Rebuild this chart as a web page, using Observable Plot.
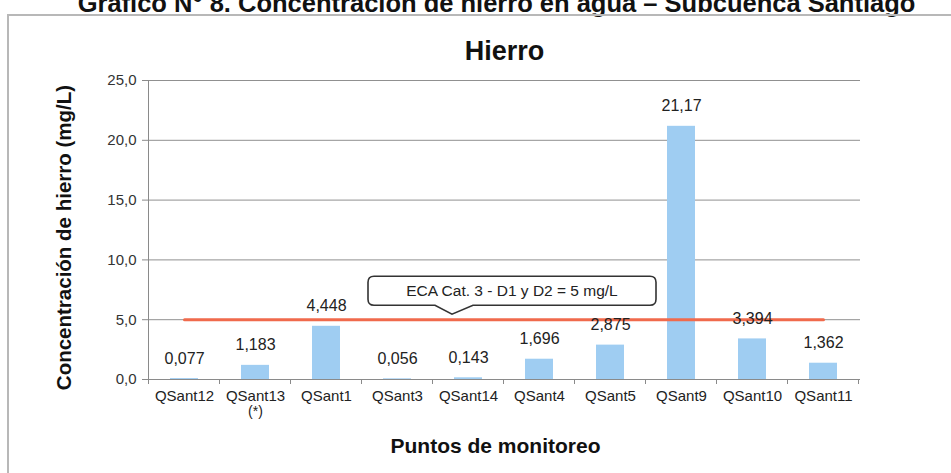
<!DOCTYPE html>
<html><head><meta charset="utf-8">
<script src="https://cdn.jsdelivr.net/npm/d3@7"></script>
<script src="https://cdn.jsdelivr.net/npm/@observablehq/plot@0.6"></script>
<style>
body{margin:0;background:#fff;}
#wrap{position:relative;width:951px;height:473px;overflow:hidden;font-family:"Liberation Sans",Arial,sans-serif;}
#chart{position:absolute;left:0;top:0;}
#frame{position:absolute;left:7px;top:14px;right:-5px;bottom:-5px;border-top:2px solid #b8b8b8;border-left:2px solid #b8b8b8;pointer-events:none;}
</style></head><body>
<div id="wrap"><div id="chart"></div><div id="frame"></div></div>
<script>
// ---- data ----
const categories = ["QSant12","QSant13","QSant1","QSant3","QSant14","QSant4","QSant5","QSant9","QSant10","QSant11"];
const values = [0.077, 1.183, 4.448, 0.056, 0.143, 1.696, 2.875, 21.17, 3.394, 1.362];
const valueLabels = ["0,077","1,183","4,448","0,056","0,143","1,696","2,875","21,17","3,394","1,362"];
const tickNotes = [{cat: "QSant13", note: "(*)"}];
const yTicks = [0, 5, 10, 15, 20, 25];
const ecaLimit = 5;
const ecaLabel = "ECA Cat. 3 - D1 y D2 = 5 mg/L";
const chartTitle = "Hierro";
const pageTitle = "Gráfico N° 8. Concentración de hierro en agua – Subcuenca Santiago";
const yLabel = "Concentración de hierro (mg/L)";
const xLabel = "Puntos de monitoreo";

const data = categories.map((c, i) => ({cat: c, value: values[i], label: valueLabels[i]}));
const ecaLine = categories.map(c => ({cat: c, v: ecaLimit}));

const font = '"Liberation Sans", Arial, sans-serif';
const plot = Plot.plot({
  width: 951, height: 473,
  marginTop: 80, marginRight: 91, marginBottom: 94, marginLeft: 148,
  style: {fontFamily: font, fontSize: "15px", color: "#222", background: "transparent", overflow: "visible"},
  x: {domain: categories, paddingInner: 0.6, paddingOuter: 0.3},
  y: {domain: [0, 25]},
  marks: [
    Plot.ruleY(yTicks.filter(d => d > 0), {stroke: "#909090", strokeWidth: 1}),
    Plot.barY(data, {x: "cat", y: "value", fill: "#9fcdf2"}),
    Plot.ruleY([0], {stroke: "#8a8a8a", strokeWidth: 1.2}),
    Plot.frame({anchor: "left", stroke: "#8a8a8a"}),
    Plot.axisY(yTicks, {tickSize: 6, tickPadding: 6, stroke: "#8a8a8a", fill: "#333",
      tickFormat: d => d.toFixed(1).replace(".", ","), fontSize: 15, label: null}),
    Plot.axisX({tickSize: 0, tickPadding: 11, fill: "#222", fontSize: 15, label: null}),
    Plot.text(tickNotes, {x: "cat", text: "note", frameAnchor: "bottom", dy: 36, fontSize: 14, fill: "#222"}),
    Plot.line(ecaLine, {x: "cat", y: "v", stroke: "#f06a4c", strokeWidth: 3}),
    Plot.text(data, {x: "cat", y: "value", text: "label", dy: -20, fontSize: 16, fill: "#222"}),
    Plot.text([chartTitle], {frameAnchor: "top", dy: -40, fontSize: 27, fontWeight: "bold", fill: "#111"}),
    Plot.text([xLabel], {frameAnchor: "bottom", dy: 73, dx: -9, fontSize: 21, fontWeight: "bold", fill: "#111"})
  ]
});
document.getElementById("chart").appendChild(plot);

// ---- annotations positioned through the plot's scales ----
const xs = plot.scale("x"), ys = plot.scale("y");
const svg = d3.select(plot);
const gap = (xs.step - xs.bandwidth) / 2;
const bounds = categories.map(c => xs.apply(c) - gap);
bounds.push(xs.apply(categories[categories.length - 1]) + xs.bandwidth + gap);
const y0 = ys.apply(0);
svg.append("g").selectAll("line").data(bounds).join("line")
  .attr("x1", d => d).attr("x2", d => d).attr("y1", y0).attr("y2", y0 + 5)
  .attr("stroke", "#8a8a8a").attr("stroke-width", 1);

// y axis label (rotated)
const yMid = (ys.apply(0) + ys.apply(25)) / 2 + 8;
svg.append("text").attr("transform", `translate(${bounds[0] - 85},${yMid}) rotate(-90)`)
  .attr("text-anchor", "middle").attr("dy", "0.35em").attr("font-size", 20.5).attr("font-weight", "bold")
  .attr("font-family", font).attr("fill", "#111").text(yLabel);

// page title, cut by the top edge
svg.append("text").attr("x", (bounds[0] + bounds[bounds.length - 1]) / 2 - 7).attr("y", 12)
  .attr("text-anchor", "middle").attr("font-size", 25.5).attr("font-weight", "bold")
  .attr("font-family", font).attr("fill", "#111").text(pageTitle);

// callout box
const tipX = xs.apply("QSant14") - 2;
const tipY = ys.apply(ecaLimit) - 5;
const L = tipX - 84, R = tipX + 204, B = tipY - 9, T = B - 29, r = 6;
const d = `M${L + r},${T} H${R - r} Q${R},${T} ${R},${T + r} V${B - r} Q${R},${B} ${R - r},${B}` +
  ` H${tipX + 21} L${tipX},${tipY} L${tipX - 17},${B} H${L + r} Q${L},${B} ${L},${B - r} V${T + r} Q${L},${T} ${L + r},${T} Z`;
const g = svg.append("g");
g.append("path").attr("d", d).attr("fill", "#fff").attr("stroke", "#333").attr("stroke-width", 1.6);
g.append("text").attr("x", (L + R) / 2).attr("y", (T + B) / 2).attr("dy", "0.35em")
  .attr("text-anchor", "middle").attr("font-size", 15.5).attr("font-family", font).attr("fill", "#222")
  .text(ecaLabel);
</script>
</body></html>
